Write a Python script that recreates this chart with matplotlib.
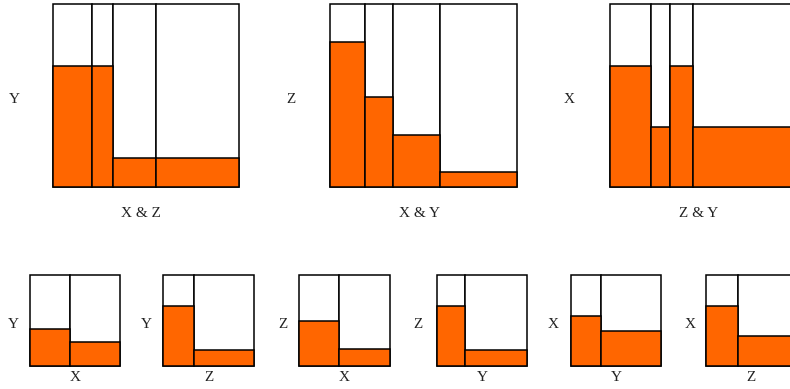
import matplotlib
matplotlib.use("Agg")
import matplotlib.pyplot as plt

# ---- data ----
# top row: conditional of one variable given the joint of the other two
top_titles_y = ["Y", "Z", "X"]
top_titles_x = ["X & Z", "X & Y", "Z & Y"]
top_widths = [
    [0.21, 0.114, 0.227, 0.449],
    [0.186, 0.150, 0.253, 0.411],
    [0.22, 0.103, 0.123, 0.554],
]
top_heights = [
    [0.662, 0.662, 0.161, 0.161],
    [0.793, 0.491, 0.285, 0.085],
    [0.660, 0.330, 0.660, 0.330],
]

# bottom row: conditional of one variable given one other variable
bot_titles_y = ["Y", "Y", "Z", "Z", "X", "X"]
bot_titles_x = ["X", "Z", "X", "Y", "Y", "Z"]
bot_split = [0.437, 0.34, 0.44, 0.316, 0.34, 0.352]
bot_heights = [
    [0.40, 0.258],
    [0.655, 0.17],
    [0.493, 0.187],
    [0.655, 0.17],
    [0.545, 0.386],
    [0.655, 0.327],
]

ORANGE = "#ff6600"
W, H = 790, 389
fig = plt.figure(figsize=(W / 100, H / 100), dpi=100)
fig.patch.set_facecolor("white")
FONT = dict(family="Liberation Serif", fontsize=11, color="#222222")


def add_ax(x0, y0, x1, y1):
    ax = fig.add_axes([x0 / W, 1 - y1 / H, (x1 - x0) / W, (y1 - y0) / H])
    ax.set_xlim(0, 1)
    ax.set_ylim(0, 1)
    ax.axis("off")
    return ax


def draw_panel(ax, widths, heights, lw):
    lefts = []
    acc = 0.0
    for w in widths:
        lefts.append(acc)
        acc += w
    ax.bar(lefts, [1.0] * len(widths), width=widths, align="edge",
           color="white", edgecolor="black", linewidth=lw, clip_on=False)
    ax.bar(lefts, heights, width=widths, align="edge",
           color=ORANGE, edgecolor="black", linewidth=lw, clip_on=False)


# top row layout (pixels)
top_lefts = [52.7, 330.3, 610.0]
top_w, top_y0, top_y1 = 186.7, 4.0, 187.3
top_ylab_x = [14, 290.7, 569.3]
top_xlab_x = [141, 419, 699]
for i in range(3):
    x0 = top_lefts[i]
    ax = add_ax(x0, top_y0, x0 + top_w, top_y1)
    draw_panel(ax, top_widths[i], top_heights[i], 1.1)
    fig.text(top_ylab_x[i] / W, 1 - 99.5 / H, top_titles_y[i], ha="center", va="center", **FONT)
    fig.text(top_xlab_x[i] / W, 1 - 213.5 / H, top_titles_x[i], ha="center", va="center", **FONT)

# bottom row layout (pixels)
bot_lefts = [30.0, 163.3, 299.3, 436.7, 570.7, 706.0]
bot_w, bot_y0, bot_y1 = 90.5, 275.0, 365.7
bot_ylab_x = [13.3, 146, 282.7, 418.3, 553.3, 690]
for i in range(6):
    x0 = bot_lefts[i]
    ax = add_ax(x0, bot_y0, x0 + bot_w, bot_y1)
    w1 = bot_split[i]
    draw_panel(ax, [w1, 1 - w1], bot_heights[i], 1.1)
    fig.text(bot_ylab_x[i] / W, 1 - 325 / H, bot_titles_y[i], ha="center", va="center", **FONT)
    fig.text((x0 + bot_w / 2) / W, 1 - 377.5 / H, bot_titles_x[i], ha="center", va="center", **FONT)

fig.savefig("out.png", dpi=100, facecolor="white")
